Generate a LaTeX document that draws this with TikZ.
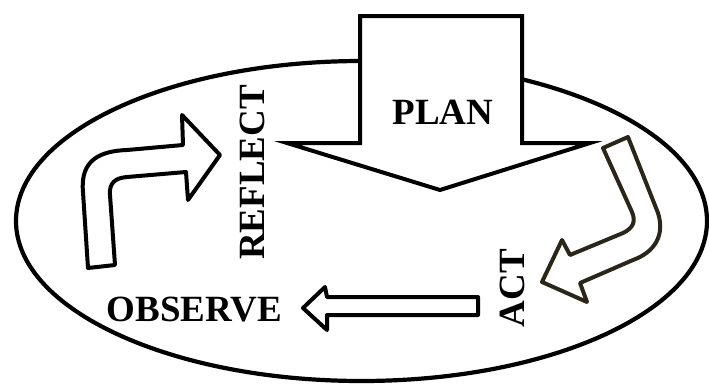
\documentclass[tikz,border=0pt]{standalone}
\usepackage{fontspec}
\setmainfont{Liberation Serif}
\definecolor{olivedark}{RGB}{42,38,24}
\begin{document}
\begin{tikzpicture}[x=1pt,y=-1pt,
  lbl/.style={font=\bfseries\fontsize{37}{42}\selectfont, inner sep=0pt},
  blockarrow/.style={draw=black, fill=white, line width=4pt, line join=round},
  ring/.style={draw=black, line width=4.2pt}]
\useasboundingbox (0,0) rectangle (709,383);
% outer cycle ellipse
\draw[ring] (361.5,221) ellipse [x radius=345.5, y radius=160];
% PLAN block arrow
\draw[blockarrow, line join=miter] (360,16) -- (522,16) -- (522,143) -- (590,143) -- (440,190) -- (287,143) -- (360,143) -- cycle;
% REFLECT bent arrow
\draw[blockarrow] (88,268) -- (83,192) .. controls (80,160) and (100,151) .. (127,150)
  -- (183,145) -- (182,115) -- (220,155) -- (188,200) -- (186,172) -- (127,177)
  .. controls (115,178) and (109,183) .. (110,195) -- (115,265) -- cycle;
% ACT curved arrow
\draw[blockarrow, draw=olivedark] (603,148) -- (628,137) -- (658,213)
  .. controls (665,235) and (655,252) .. (633,260) -- (580,283) -- (587,302) -- (542,282)
  -- (562,240) -- (570,255) -- (623,233) .. controls (633,228) and (636,222) .. (632,212) -- cycle;
% OBSERVE arrow
\draw[blockarrow] (478,297) -- (327,297) -- (325,287) -- (303,308) -- (327,330) -- (327,315) -- (478,315) -- cycle;
% labels
\node[lbl] (plan) at (443,112) {PLAN};
\node[lbl, rotate=90] (reflect) at (252.5,172.5) {REFLECT};
\node[lbl, rotate=90] (act) at (512,288) {ACT};
\node[lbl] (observe) at (194.5,309.5) {OBSERVE};
\end{tikzpicture}
\end{document}
